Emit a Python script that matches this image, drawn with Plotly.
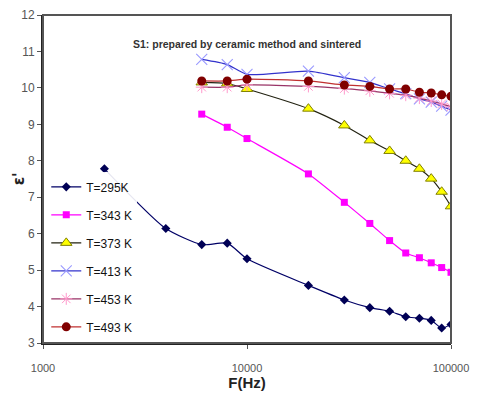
import plotly.graph_objects as go

freq_295 = [2000, 4000, 6000, 8000, 10000, 20000, 30000, 40000, 50000, 60000, 70000, 80000, 90000, 100000]
eps_295 = [7.78, 6.14, 5.70, 5.74, 5.31, 4.58, 4.18, 3.97, 3.87, 3.72, 3.68, 3.62, 3.41, 3.51]

freq_hi = [6000, 8000, 10000, 20000, 30000, 40000, 50000, 60000, 70000, 80000, 90000, 100000]
eps_343 = [9.28, 8.92, 8.61, 7.64, 6.86, 6.28, 5.81, 5.47, 5.34, 5.20, 5.07, 4.94]
eps_373 = [10.15, 10.12, 9.97, 9.43, 8.97, 8.56, 8.27, 8.00, 7.78, 7.51, 7.15, 6.75]
eps_413 = [10.78, 10.64, 10.37, 10.46, 10.28, 10.15, 9.97, 9.84, 9.70, 9.61, 9.50, 9.39]
eps_453 = [10.02, 10.02, 10.08, 10.04, 9.98, 9.92, 9.85, 9.80, 9.72, 9.64, 9.56, 9.48]
eps_493 = [10.19, 10.19, 10.24, 10.19, 10.08, 10.04, 9.97, 9.97, 9.88, 9.86, 9.81, 9.77]

x_ticks = [1000, 10000, 100000]
y_ticks = [3, 4, 5, 6, 7, 8, 9, 10, 11, 12]

fig = go.Figure()

series = [
    ("T=295K", freq_295, eps_295, "#000066", dict(symbol="diamond", size=7, color="#000055", line=dict(width=0))),
    ("T=343 K", freq_hi, eps_343, "#FF00FF", dict(symbol="square", size=7, color="#FF00FF", line=dict(width=0))),
    ("T=373 K", freq_hi, eps_373, "#222211", dict(symbol="triangle-up", size=10, color="#FFFF00", line=dict(width=1, color="#808000"))),
    ("T=413 K", freq_hi, eps_413, "#3333CC", dict(symbol="x-thin-open", size=11, color="#9999FF", line=dict(width=1.1, color="#9999FF"))),
    ("T=453 K", freq_hi, eps_453, "#993366", dict(symbol="asterisk-open", size=10, color="#FF99CC", line=dict(width=1.0, color="#FF99CC"))),
    ("T=493 K", freq_hi, eps_493, "#C03030", dict(symbol="circle", size=9, color="#800000", line=dict(width=0))),
]

for i, (name, xs, ys, lc, mk) in enumerate(series):
    fig.add_trace(go.Scatter(
        x=xs, y=ys, name=name, mode="lines+markers",
        line=dict(color=lc, width=1.2, shape="spline", smoothing=0.6),
        marker=mk, legendgroup=f"g{i}",
    ))

fig.add_annotation(
    text="<b>S1: prepared by ceramic method and sintered</b>",
    xref="paper", yref="paper", x=0.5, y=0.935, showarrow=False,
    font=dict(family="Liberation Sans, Arial", size=10.5, color="#333333"),
)
fig.add_annotation(
    text="<b>ε'</b>", xref="paper", yref="paper", x=-0.085, y=0.5,
    showarrow=False, textangle=-90,
    font=dict(family="DejaVu Sans", size=15, color="#222222"),
)

fig.add_shape(type="rect", xref="paper", yref="paper", x0=0, y0=0, x1=1, y1=1,
              line=dict(color="#555555", width=2))

fig.update_layout(
    width=477, height=403,
    margin=dict(l=43, r=21, t=8, b=60),
    paper_bgcolor="white", plot_bgcolor="white",
    font=dict(family="Liberation Sans, Arial", color="#555555"),
    showlegend=True,
    legend=dict(
        x=0.008, y=0.005, xanchor="left", yanchor="bottom",
        bgcolor="rgba(255,255,255,0.9)", borderwidth=0,
        font=dict(size=12, color="#111111"),
        tracegroupgap=9, itemwidth=30,
    ),
    xaxis=dict(
        type="log", range=[3, 5], tickvals=x_ticks,
        ticktext=[str(v) for v in x_ticks],
        showgrid=False, zeroline=False,
        showline=True, linecolor="#222222", linewidth=2,
        ticks="outside", ticklen=4, tickcolor="#555555",
        ticklabelstandoff=10,
        tickfont=dict(size=11, color="#555555"),
        title=dict(text="<b>F(Hz)</b>", font=dict(size=15, color="#222222"), standoff=2),
    ),
    yaxis=dict(
        range=[3, 12], tickvals=y_ticks,
        showgrid=False, zeroline=False,
        showline=True, linecolor="#222222", linewidth=2,
        ticks="outside", ticklen=4, tickcolor="#555555",
        tickfont=dict(size=12, color="#555555"),
    ),
)

fig.write_html("out.html")
